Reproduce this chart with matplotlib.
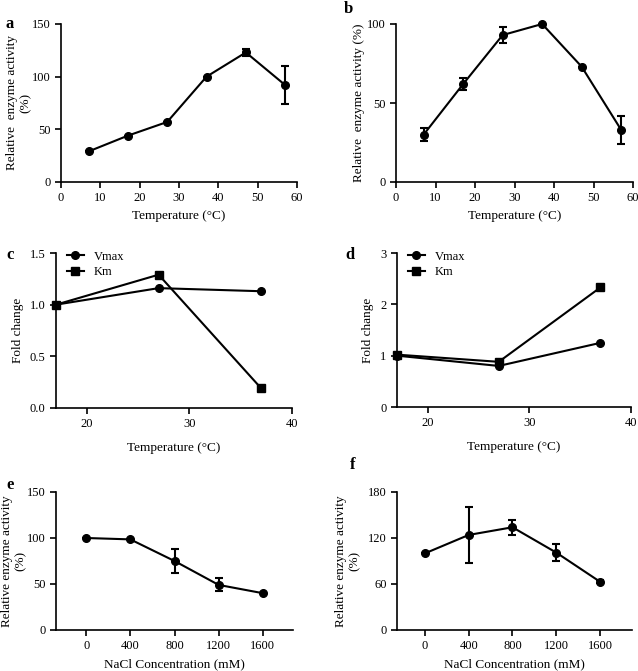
import matplotlib
matplotlib.use("Agg")
import matplotlib.pyplot as plt
from matplotlib.ticker import FormatStrFormatter

plt.rcParams["font.family"] = ["Liberation Serif", "DejaVu Serif"]
plt.rcParams["font.size"] = 9

# --- data
temp = [7, 17, 27, 37, 47, 57]
act_a = [29, 44, 57, 100, 123, 92]
err_a = [0, 0, 0, 0, 3, 18]
act_b = [30, 62, 93, 100, 73, 33]
err_b = [4, 4, 5, 0, 0, 9]

kin_t = [17, 27, 37]
vmax_c = [1.0, 1.16, 1.13]
km_c = [1.0, 1.29, 0.19]
vmax_d = [1.0, 0.80, 1.25]
km_d = [1.02, 0.88, 2.33]

nacl = [0, 400, 800, 1200, 1600]
act_e = [100, 98.5, 75, 49, 40]
err_e = [0, 0, 13, 7, 0]
act_f = [100, 124, 134, 101, 63]
err_f = [0, 36, 10, 11, 2]

W, H = 638, 671
fig = plt.figure(figsize=(W / 100, H / 100), dpi=100)

def mkax(l, r, t, b):
    ax = fig.add_axes([l / W, 1 - b / H, (r - l) / W, (b - t) / H])
    for s in ["top", "right"]:
        ax.spines[s].set_visible(False)
    for s in ["left", "bottom"]:
        ax.spines[s].set_linewidth(1.2)
    ax.tick_params(direction="out", width=1.2, length=4, labelsize=9)
    return ax

def errplot(ax, x, y, e):
    ax.errorbar(x, y, yerr=e, color="black", marker="o", ms=5.5, lw=1.5,
                elinewidth=1.5, capsize=3, capthick=1.5, clip_on=False, zorder=3)

def kinplot(ax, vm, km):
    ax.plot(kin_t, vm, color="black", marker="o", ms=5.5, lw=1.5, label="Vmax", clip_on=False)
    ax.plot(kin_t, km, color="black", marker="s", ms=5.5, lw=1.5, label="Km", clip_on=False)
    ax.legend(loc="upper left", bbox_to_anchor=(0.045, 1.015), frameon=False,
              fontsize=9, handlelength=1.4, handletextpad=0.8, labelspacing=0.3,
              borderpad=0, borderaxespad=0)

def letter(x, y, s):
    fig.text(x / W, 1 - y / H, s, fontsize=12, fontweight="bold", va="center")

# a
ax = mkax(61, 297, 24, 182)
errplot(ax, temp, act_a, err_a)
ax.set_xlim(0, 60); ax.set_ylim(0, 150)
ax.set_xticks(range(0, 61, 10)); ax.set_yticks([0, 50, 100, 150])
ax.set_xlabel("Temperature (°C)", fontsize=9.5)
ax.set_ylabel("Relative  enzyme activity\n(%)", fontsize=9.5)
ax.yaxis.set_label_coords(-0.125, 0.5)
letter(6, 24, "a")

# b
ax = mkax(396, 633, 24, 182)
errplot(ax, temp, act_b, err_b)
ax.set_xlim(0, 60); ax.set_ylim(0, 100)
ax.set_xticks(range(0, 61, 10)); ax.set_yticks([0, 50, 100])
ax.set_xlabel("Temperature (°C)", fontsize=9.5)
ax.set_ylabel("Relative  enzyme activity (%)", fontsize=9.5)
ax.yaxis.set_label_coords(-0.13, 0.5)
letter(344, 9, "b")

# c
ax = mkax(56, 292, 253, 408)
kinplot(ax, vmax_c, km_c)
ax.set_xlim(17, 40); ax.set_ylim(0, 1.5)
ax.set_xticks([20, 30, 40]); ax.set_yticks([0, 0.5, 1.0, 1.5])
ax.yaxis.set_major_formatter(FormatStrFormatter("%.1f"))
ax.set_xlabel("Temperature (°C)", fontsize=9.5, labelpad=8)
ax.set_ylabel("Fold change", fontsize=9.5)
ax.yaxis.set_label_coords(-0.135, 0.5)
letter(6, 255, "c")

# d
ax = mkax(397, 631, 253, 407)
kinplot(ax, vmax_d, km_d)
ax.set_xlim(17, 40); ax.set_ylim(0, 3)
ax.set_xticks([20, 30, 40]); ax.set_yticks([0, 1, 2, 3])
ax.set_xlabel("Temperature (°C)", fontsize=9.5, labelpad=8)
ax.set_ylabel("Fold change", fontsize=9.5)
ax.yaxis.set_label_coords(-0.1, 0.5)
letter(345, 255, "d")

# e
ax = mkax(56, 293, 492, 630)
errplot(ax, nacl, act_e, err_e)
ax.set_xlim(-273, 1873); ax.set_ylim(0, 150)
ax.set_xticks(nacl); ax.set_yticks([0, 50, 100, 150])
ax.set_xlabel("NaCl Concentration (mM)", fontsize=9.5)
ax.set_ylabel("Relative enzyme activity\n(%)", fontsize=9.5)
ax.yaxis.set_label_coords(-0.125, 0.5)
letter(6, 485, "e")

# f
ax = mkax(397, 632, 492, 630)
errplot(ax, nacl, act_f, err_f)
ax.set_xlim(-256, 1893); ax.set_ylim(0, 180)
ax.set_xticks(nacl); ax.set_yticks([0, 60, 120, 180])
ax.set_xlabel("NaCl Concentration (mM)", fontsize=9.5)
ax.set_ylabel("Relative enzyme activity\n(%)", fontsize=9.5)
ax.yaxis.set_label_coords(-0.155, 0.5)
letter(350, 465, "f")

fig.savefig("out.png", dpi=100)
